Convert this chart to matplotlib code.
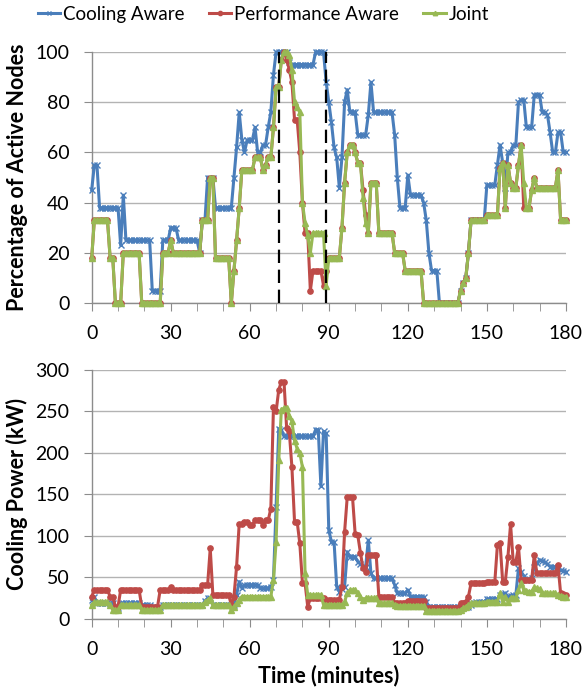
import matplotlib
matplotlib.use("Agg")
import matplotlib.pyplot as plt
from matplotlib.ticker import MultipleLocator

plt.rcParams['font.family'] = ['Lato', 'DejaVu Sans']

minutes = list(range(0, 181))

# Percentage of active nodes
ca_nodes = [45, 55, 55, 38, 38, 38, 38, 38, 38, 38,
            38, 23, 43, 25, 25, 25, 25, 25, 25, 25,
            25, 25, 25, 5, 5, 5, 5, 25, 25, 25,
            30, 30, 30, 25, 25, 25, 25, 25, 25, 25,
            25, 20, 33, 33, 50, 50, 50, 38, 38, 38,
            38, 38, 38, 38, 50, 62, 76, 65, 60, 65,
            65, 65, 70, 60, 60, 63, 63, 70, 76, 91,
            100, 100, 100, 100, 100, 96, 95, 95, 95, 95,
            95, 95, 95, 95, 95, 100, 100, 100, 100, 88,
            80, 72, 62, 58, 46, 58, 80, 85, 76, 76,
            76, 67, 67, 67, 67, 75, 88, 76, 76, 76,
            76, 76, 76, 76, 76, 67, 50, 38, 38, 38,
            51, 43, 43, 43, 43, 43, 40, 33, 20, 13,
            13, 13, 0, 0, 0, 0, 0, 0, 0, 0,
            5, 8, 10, 20, 33, 33, 33, 33, 33, 33,
            47, 47, 47, 47, 55, 63, 56, 46, 60, 60,
            63, 63, 80, 81, 81, 70, 70, 70, 83, 83,
            83, 76, 76, 75, 68, 60, 60, 68, 68, 60,
            60]

pa_nodes = [18, 33, 33, 33, 33, 33, 33, 18, 18, 0,
            0, 0, 20, 20, 20, 20, 20, 20, 20, 0,
            0, 0, 0, 0, 0, 0, 0, 20, 20, 20,
            25, 20, 20, 20, 20, 20, 20, 20, 20, 20,
            20, 20, 33, 33, 33, 50, 50, 18, 18, 18,
            18, 18, 18, 0, 13, 25, 38, 53, 53, 53,
            53, 53, 58, 58, 58, 53, 55, 58, 58, 70,
            86, 86, 97, 100, 97, 93, 88, 73, 73, 60,
            40, 28, 28, 5, 13, 13, 13, 13, 7, 13,
            18, 18, 18, 18, 18, 30, 48, 60, 63, 63,
            60, 56, 56, 45, 35, 28, 48, 48, 48, 28,
            28, 28, 28, 28, 28, 20, 20, 20, 20, 13,
            13, 13, 13, 13, 13, 13, 0, 0, 0, 0,
            0, 0, 0, 0, 0, 0, 0, 0, 0, 0,
            5, 8, 10, 20, 33, 33, 33, 33, 33, 33,
            35, 35, 35, 35, 35, 54, 56, 38, 55, 48,
            46, 46, 55, 63, 38, 38, 38, 45, 50, 46,
            46, 46, 46, 46, 46, 46, 46, 53, 33, 33,
            33]

j_nodes = [18, 33, 33, 33, 33, 33, 33, 18, 18, 0,
           0, 0, 20, 20, 20, 20, 20, 20, 20, 0,
           0, 0, 0, 0, 0, 0, 0, 20, 20, 20,
           25, 20, 20, 20, 20, 20, 20, 20, 20, 20,
           20, 20, 33, 33, 33, 50, 50, 18, 18, 18,
           18, 18, 18, 0, 13, 25, 38, 53, 53, 53,
           53, 53, 58, 58, 58, 53, 55, 58, 58, 70,
           86, 86, 97, 100, 100, 99, 93, 80, 78, 76,
           40, 32, 27, 20, 28, 28, 28, 28, 28, 7,
           18, 18, 18, 18, 18, 30, 48, 60, 63, 63,
           60, 56, 56, 42, 32, 28, 48, 48, 48, 28,
           28, 28, 28, 28, 28, 20, 20, 20, 20, 13,
           13, 13, 13, 13, 13, 13, 0, 0, 0, 0,
           0, 0, 0, 0, 0, 0, 0, 0, 0, 0,
           5, 8, 10, 20, 33, 33, 33, 33, 33, 33,
           35, 35, 35, 35, 35, 54, 56, 38, 55, 48,
           46, 46, 55, 63, 48, 38, 38, 45, 50, 46,
           46, 46, 46, 46, 46, 46, 46, 53, 33, 33,
           33]

# Cooling power (kW)
ca_power = [23, 27, 19, 19, 19, 19, 19, 19, 19, 13,
            13, 19, 19, 19, 19, 19, 19, 19, 19, 17,
            17, 17, 17, 14, 14, 14, 14, 17, 17, 17,
            17, 17, 17, 17, 17, 17, 17, 17, 17, 17,
            17, 17, 17, 22, 25, 25, 17, 17, 17, 17,
            17, 17, 17, 17, 17, 29, 45, 37, 41, 41,
            41, 41, 41, 41, 37, 37, 37, 37, 38, 47,
            135, 229, 228, 220, 220, 220, 220, 220, 220, 220,
            220, 220, 220, 220, 220, 228, 228, 160, 226, 224,
            107, 93, 93, 39, 33, 36, 39, 81, 75, 75,
            75, 69, 66, 63, 63, 95, 55, 49, 49, 49,
            49, 49, 49, 49, 49, 41, 31, 31, 31, 31,
            35, 27, 27, 27, 27, 27, 27, 21, 15, 15,
            15, 15, 15, 15, 15, 15, 15, 15, 15, 15,
            15, 15, 19, 15, 17, 19, 21, 21, 21, 21,
            24, 24, 24, 24, 24, 29, 30, 31, 27, 28,
            29, 29, 61, 57, 52, 47, 48, 49, 63, 67,
            71, 70, 69, 66, 63, 63, 63, 61, 59, 58,
            57]

pa_power = [27, 35, 35, 35, 35, 35, 35, 27, 27, 15,
            15, 35, 35, 35, 35, 35, 35, 35, 35, 15,
            15, 15, 15, 15, 15, 15, 35, 35, 35, 35,
            38, 35, 35, 35, 35, 35, 35, 35, 35, 35,
            35, 35, 41, 41, 41, 85, 29, 29, 29, 29,
            29, 29, 29, 17, 27, 63, 115, 115, 117, 117,
            113, 113, 119, 119, 119, 113, 119, 119, 133, 256,
            250, 276, 286, 286, 230, 226, 183, 117, 117, 91,
            43, 43, 15, 25, 25, 25, 25, 25, 25, 23,
            23, 23, 23, 23, 23, 39, 105, 147, 147, 147,
            103, 101, 80, 61, 57, 77, 77, 77, 77, 27,
            27, 27, 27, 27, 27, 19, 19, 19, 19, 19,
            22, 22, 22, 22, 22, 22, 22, 13, 13, 13,
            13, 13, 13, 13, 13, 13, 13, 13, 13, 13,
            19, 19, 21, 27, 43, 43, 43, 43, 43, 43,
            44, 44, 44, 44, 89, 92, 45, 45, 75, 114,
            69, 69, 87, 47, 47, 47, 47, 47, 77, 55,
            55, 55, 55, 55, 55, 55, 55, 65, 31, 30,
            29]

j_power = [17, 20, 20, 20, 20, 20, 20, 17, 11, 11,
           11, 17, 17, 17, 17, 17, 17, 17, 17, 11,
           11, 11, 11, 11, 11, 11, 11, 17, 17, 17,
           17, 17, 17, 17, 17, 17, 17, 17, 17, 17,
           17, 17, 17, 20, 23, 25, 17, 17, 17, 17,
           17, 17, 17, 11, 15, 19, 23, 27, 27, 27,
           27, 27, 27, 27, 27, 27, 27, 27, 27, 47,
           93, 191, 252, 254, 254, 245, 238, 215, 205, 200,
           183, 55, 29, 29, 29, 29, 29, 29, 17, 17,
           17, 17, 17, 17, 17, 17, 21, 31, 35, 35,
           35, 31, 27, 23, 25, 25, 25, 25, 25, 19,
           19, 19, 19, 19, 19, 17, 16, 16, 16, 16,
           16, 16, 16, 16, 16, 16, 16, 10, 10, 10,
           10, 10, 10, 10, 10, 10, 10, 10, 10, 10,
           11, 13, 15, 17, 19, 19, 19, 19, 19, 19,
           21, 21, 21, 21, 21, 31, 21, 27, 21, 25,
           25, 25, 35, 43, 35, 34, 33, 33, 38, 37,
           36, 31, 31, 31, 31, 31, 31, 29, 28, 27,
           27]

labels = ["Cooling Aware", "Performance Aware", "Joint"]
dashed_times = [71, 89]

colors = ["#4A7EBB", "#BE4B48", "#98B954"]
markers = ["x", "o", "^"]
msizes = [4, 3.8, 4]
grid_c = "#B3B3B3"
axis_c = "#8C8C8C"

fig = plt.figure(figsize=(5.84, 6.89), dpi=100)
ax1 = fig.add_axes([0.157, 0.560, 0.812, 0.3645])
ax2 = fig.add_axes([0.157, 0.1016, 0.812, 0.3614])


def style(ax, ymax, ystep):
    ax.set_xlim(0, 180)
    ax.set_ylim(0, ymax)
    ax.xaxis.set_major_locator(MultipleLocator(30))
    ax.xaxis.set_minor_locator(MultipleLocator(10))
    ax.yaxis.set_major_locator(MultipleLocator(ystep))
    ax.grid(axis='y', color=grid_c, linewidth=1.0)
    ax.set_axisbelow(True)
    for s in ['top', 'right']:
        ax.spines[s].set_visible(False)
    for s in ['left', 'bottom']:
        ax.spines[s].set_color(axis_c)
        ax.spines[s].set_linewidth(1.0)
    ax.tick_params(axis='x', which='both', direction='out', length=6,
                   color=axis_c, labelsize=14, pad=10)
    ax.tick_params(axis='y', which='both', direction='out', length=6,
                   color=axis_c, labelsize=14, pad=10)


series_top = [ca_nodes, pa_nodes, j_nodes]
series_bot = [ca_power, pa_power, j_power]

for ax, series in [(ax1, series_top), (ax2, series_bot)]:
    for vals, c, m, ms, lab in zip(series, colors, markers, msizes, labels):
        ax.plot(minutes, vals, color=c, marker=m, markersize=ms,
                markeredgewidth=1.0, linewidth=2.2, label=lab, clip_on=False,
                zorder=3)

for t in dashed_times:
    ax1.plot([t, t], [0, 100], color='black', linewidth=1.6,
             linestyle=(0, (6, 3)), zorder=4, clip_on=False)

style(ax1, 100, 20)
style(ax2, 300, 50)

ax1.set_ylabel("Percentage of Active Nodes", fontsize=15.5, fontweight='bold')
ax2.set_ylabel("Cooling Power (kW)", fontsize=15.5, fontweight='bold')
ax2.set_xlabel("Time (minutes)", fontsize=15.5, fontweight='bold')
ax1.yaxis.set_label_coords(-0.135, 0.5)
ax2.yaxis.set_label_coords(-0.135, 0.5)
ax2.xaxis.set_label_coords(0.5, -0.185)

handles, labs = ax1.get_legend_handles_labels()
fig.legend(handles, labs, loc='center', bbox_to_anchor=(0.451, 0.979),
           ncol=3, frameon=False, fontsize=13.5, handlelength=1.2,
           handletextpad=0.15, columnspacing=1.3, markerscale=0.8)

fig.savefig("out.png", dpi=100, facecolor='white')
